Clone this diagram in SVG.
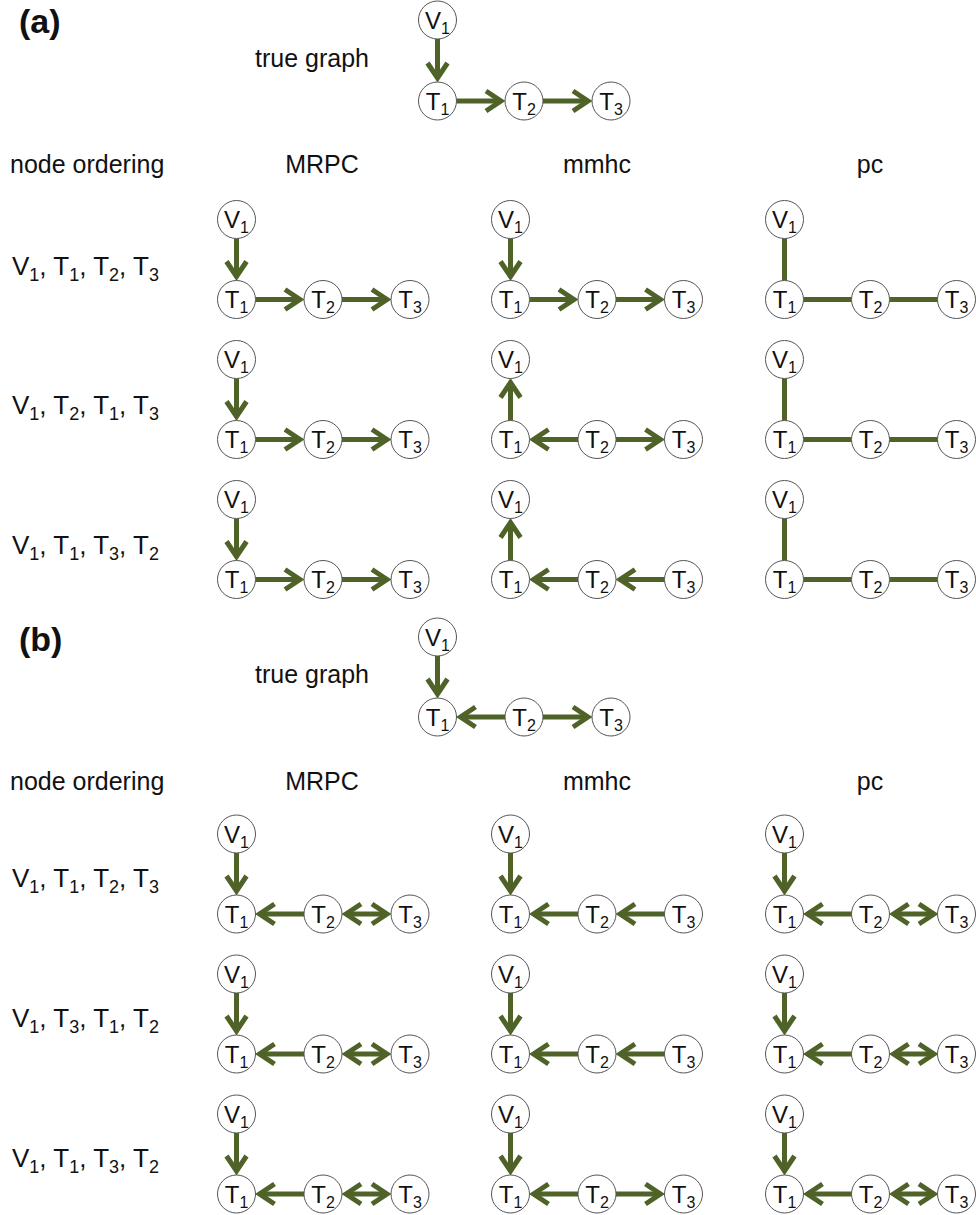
<svg xmlns="http://www.w3.org/2000/svg" width="976" height="1215" viewBox="0 0 976 1215">
<style>
text{font-family:"Liberation Sans",Arial,sans-serif;fill:#111}
.hd{font-size:25px}
.pl{font-size:34px;font-weight:bold}
.rl{font-size:26px}
.rl tspan.s{font-size:18px}
.nl{font-size:24px;text-anchor:middle}
.nl tspan{font-size:16px}
.e{stroke:#4f6228;stroke-width:5;fill:none}
.a{marker-end:url(#ah)}
.d{marker-start:url(#ah);marker-end:url(#ah)}
circle{fill:#fff;stroke:#555;stroke-width:1}
</style>
<defs>
<marker id="ah" markerUnits="userSpaceOnUse" viewBox="-20 -14 27 28" refX="0" refY="0" markerWidth="27" markerHeight="28" orient="auto-start-reverse">
<path d="M-15,-10 L0,0 L-15,10" fill="none" stroke="#4f6228" stroke-width="5"/>
</marker>
</defs>

<g id="labels">
<text class="pl" x="19" y="33">(a)</text>
<text class="hd" x="255" y="67">true graph</text>
<text class="hd" x="10" y="173">node ordering</text>
<text class="hd" x="322" y="173" text-anchor="middle">MRPC</text>
<text class="hd" x="597" y="173" text-anchor="middle">mmhc</text>
<text class="hd" x="870" y="173" text-anchor="middle">pc</text>
<text class="rl" x="12" y="275">V<tspan class="s" dy="6">1</tspan><tspan dy="-6">, T</tspan><tspan class="s" dy="6">1</tspan><tspan dy="-6">, T</tspan><tspan class="s" dy="6">2</tspan><tspan dy="-6">, T</tspan><tspan class="s" dy="6">3</tspan></text>
<text class="rl" x="12" y="414">V<tspan class="s" dy="6">1</tspan><tspan dy="-6">, T</tspan><tspan class="s" dy="6">2</tspan><tspan dy="-6">, T</tspan><tspan class="s" dy="6">1</tspan><tspan dy="-6">, T</tspan><tspan class="s" dy="6">3</tspan></text>
<text class="rl" x="12" y="554">V<tspan class="s" dy="6">1</tspan><tspan dy="-6">, T</tspan><tspan class="s" dy="6">1</tspan><tspan dy="-6">, T</tspan><tspan class="s" dy="6">3</tspan><tspan dy="-6">, T</tspan><tspan class="s" dy="6">2</tspan></text>
<text class="pl" x="19" y="651">(b)</text>
<text class="hd" x="255" y="683">true graph</text>
<text class="hd" x="10" y="790">node ordering</text>
<text class="hd" x="322" y="790" text-anchor="middle">MRPC</text>
<text class="hd" x="597" y="790" text-anchor="middle">mmhc</text>
<text class="hd" x="870" y="790" text-anchor="middle">pc</text>
<text class="rl" x="12" y="887">V<tspan class="s" dy="6">1</tspan><tspan dy="-6">, T</tspan><tspan class="s" dy="6">1</tspan><tspan dy="-6">, T</tspan><tspan class="s" dy="6">2</tspan><tspan dy="-6">, T</tspan><tspan class="s" dy="6">3</tspan></text>
<text class="rl" x="12" y="1027">V<tspan class="s" dy="6">1</tspan><tspan dy="-6">, T</tspan><tspan class="s" dy="6">3</tspan><tspan dy="-6">, T</tspan><tspan class="s" dy="6">1</tspan><tspan dy="-6">, T</tspan><tspan class="s" dy="6">2</tspan></text>
<text class="rl" x="12" y="1167">V<tspan class="s" dy="6">1</tspan><tspan dy="-6">, T</tspan><tspan class="s" dy="6">1</tspan><tspan dy="-6">, T</tspan><tspan class="s" dy="6">3</tspan><tspan dy="-6">, T</tspan><tspan class="s" dy="6">2</tspan></text>
</g>

<g id="connectors">
<!-- (a) true -->
<line class="e a" x1="437.5" y1="39" x2="437.5" y2="78"/>
<line class="e a" x1="456.5" y1="101" x2="501" y2="101"/>
<line class="e a" x1="543" y1="101" x2="588" y2="101"/>
<!-- (a) MRPC rows -->
<line class="e a" x1="236.5" y1="238.5" x2="236.5" y2="276.5"/>
<line class="e a" x1="255.5" y1="299.5" x2="300" y2="299.5"/>
<line class="e a" x1="342" y1="299.5" x2="387" y2="299.5"/>
<line class="e a" x1="236.5" y1="378.5" x2="236.5" y2="416.5"/>
<line class="e a" x1="255.5" y1="439.5" x2="300" y2="439.5"/>
<line class="e a" x1="342" y1="439.5" x2="387" y2="439.5"/>
<line class="e a" x1="236.5" y1="518.5" x2="236.5" y2="556.5"/>
<line class="e a" x1="255.5" y1="579.5" x2="300" y2="579.5"/>
<line class="e a" x1="342" y1="579.5" x2="387" y2="579.5"/>
<!-- (a) mmhc rows -->
<line class="e a" x1="510.5" y1="238.5" x2="510.5" y2="276.5"/>
<line class="e a" x1="529.5" y1="299.5" x2="574" y2="299.5"/>
<line class="e a" x1="616" y1="299.5" x2="660.5" y2="299.5"/>
<line class="e a" x1="510.5" y1="420.5" x2="510.5" y2="382.5"/>
<line class="e a" x1="578" y1="439.5" x2="533.5" y2="439.5"/>
<line class="e a" x1="616" y1="439.5" x2="660.5" y2="439.5"/>
<line class="e a" x1="510.5" y1="560.5" x2="510.5" y2="522.5"/>
<line class="e a" x1="578" y1="579.5" x2="533.5" y2="579.5"/>
<line class="e a" x1="664.5" y1="579.5" x2="620" y2="579.5"/>
<!-- (a) pc rows -->
<line class="e" x1="784.5" y1="238.5" x2="784.5" y2="280.5"/>
<line class="e" x1="803.5" y1="299.5" x2="851.5" y2="299.5"/>
<line class="e" x1="889.5" y1="299.5" x2="938" y2="299.5"/>
<line class="e" x1="784.5" y1="378.5" x2="784.5" y2="420.5"/>
<line class="e" x1="803.5" y1="439.5" x2="851.5" y2="439.5"/>
<line class="e" x1="889.5" y1="439.5" x2="938" y2="439.5"/>
<line class="e" x1="784.5" y1="518.5" x2="784.5" y2="560.5"/>
<line class="e" x1="803.5" y1="579.5" x2="851.5" y2="579.5"/>
<line class="e" x1="889.5" y1="579.5" x2="938" y2="579.5"/>
<!-- (b) true -->
<line class="e a" x1="437.5" y1="656" x2="437.5" y2="694"/>
<line class="e a" x1="505" y1="717" x2="460.5" y2="717"/>
<line class="e a" x1="543" y1="717" x2="588" y2="717"/>
<!-- (b) MRPC rows -->
<line class="e a" x1="236.5" y1="853" x2="236.5" y2="891"/>
<line class="e a" x1="304" y1="914" x2="259.5" y2="914"/>
<line class="e d" x1="346" y1="914" x2="387" y2="914"/>
<line class="e a" x1="236.5" y1="993" x2="236.5" y2="1031"/>
<line class="e a" x1="304" y1="1054" x2="259.5" y2="1054"/>
<line class="e d" x1="346" y1="1054" x2="387" y2="1054"/>
<line class="e a" x1="236.5" y1="1133" x2="236.5" y2="1171"/>
<line class="e a" x1="304" y1="1194" x2="259.5" y2="1194"/>
<line class="e d" x1="346" y1="1194" x2="387" y2="1194"/>
<!-- (b) mmhc rows -->
<line class="e a" x1="510.5" y1="853" x2="510.5" y2="891"/>
<line class="e a" x1="578" y1="914" x2="533.5" y2="914"/>
<line class="e a" x1="664.5" y1="914" x2="620" y2="914"/>
<line class="e a" x1="510.5" y1="993" x2="510.5" y2="1031"/>
<line class="e a" x1="578" y1="1054" x2="533.5" y2="1054"/>
<line class="e a" x1="664.5" y1="1054" x2="620" y2="1054"/>
<line class="e a" x1="510.5" y1="1133" x2="510.5" y2="1171"/>
<line class="e a" x1="578" y1="1194" x2="533.5" y2="1194"/>
<line class="e a" x1="616" y1="1194" x2="660.5" y2="1194"/>
<!-- (b) pc rows -->
<line class="e a" x1="784.5" y1="853" x2="784.5" y2="891"/>
<line class="e a" x1="851.5" y1="914" x2="807.5" y2="914"/>
<line class="e d" x1="893.5" y1="914" x2="934" y2="914"/>
<line class="e a" x1="784.5" y1="993" x2="784.5" y2="1031"/>
<line class="e a" x1="851.5" y1="1054" x2="807.5" y2="1054"/>
<line class="e d" x1="893.5" y1="1054" x2="934" y2="1054"/>
<line class="e a" x1="784.5" y1="1133" x2="784.5" y2="1171"/>
<line class="e a" x1="851.5" y1="1194" x2="807.5" y2="1194"/>
<line class="e d" x1="893.5" y1="1194" x2="934" y2="1194"/>
</g>

<!-- (a) true graph nodes -->
<g id="a-true-V1"><circle cx="437.5" cy="20" r="19"/><text class="nl" x="437.5" y="28.5">V<tspan dy="5">1</tspan></text></g>
<g id="a-true-T1"><circle cx="437.5" cy="101" r="19"/><text class="nl" x="437.5" y="109.5">T<tspan dy="5">1</tspan></text></g>
<g id="a-true-T2"><circle cx="524" cy="101" r="19"/><text class="nl" x="524" y="109.5">T<tspan dy="5">2</tspan></text></g>
<g id="a-true-T3"><circle cx="611" cy="101" r="19"/><text class="nl" x="611" y="109.5">T<tspan dy="5">3</tspan></text></g>

<!-- (a) rows -->
<g id="a1-MRPC-V1"><circle cx="236.5" cy="219.5" r="19"/><text class="nl" x="236.5" y="228">V<tspan dy="5">1</tspan></text></g>
<g id="a1-MRPC-T1"><circle cx="236.5" cy="299.5" r="19"/><text class="nl" x="236.5" y="308">T<tspan dy="5">1</tspan></text></g>
<g id="a1-MRPC-T2"><circle cx="323" cy="299.5" r="19"/><text class="nl" x="323" y="308">T<tspan dy="5">2</tspan></text></g>
<g id="a1-MRPC-T3"><circle cx="410" cy="299.5" r="19"/><text class="nl" x="410" y="308">T<tspan dy="5">3</tspan></text></g>
<g id="a1-mmhc-V1"><circle cx="510.5" cy="219.5" r="19"/><text class="nl" x="510.5" y="228">V<tspan dy="5">1</tspan></text></g>
<g id="a1-mmhc-T1"><circle cx="510.5" cy="299.5" r="19"/><text class="nl" x="510.5" y="308">T<tspan dy="5">1</tspan></text></g>
<g id="a1-mmhc-T2"><circle cx="597" cy="299.5" r="19"/><text class="nl" x="597" y="308">T<tspan dy="5">2</tspan></text></g>
<g id="a1-mmhc-T3"><circle cx="683.5" cy="299.5" r="19"/><text class="nl" x="683.5" y="308">T<tspan dy="5">3</tspan></text></g>
<g id="a1-pc-V1"><circle cx="784.5" cy="219.5" r="19"/><text class="nl" x="784.5" y="228">V<tspan dy="5">1</tspan></text></g>
<g id="a1-pc-T1"><circle cx="784.5" cy="299.5" r="19"/><text class="nl" x="784.5" y="308">T<tspan dy="5">1</tspan></text></g>
<g id="a1-pc-T2"><circle cx="870.5" cy="299.5" r="19"/><text class="nl" x="870.5" y="308">T<tspan dy="5">2</tspan></text></g>
<g id="a1-pc-T3"><circle cx="956.5" cy="299.5" r="19"/><text class="nl" x="956.5" y="308">T<tspan dy="5">3</tspan></text></g>

<g id="a2-MRPC-V1"><circle cx="236.5" cy="359.5" r="19"/><text class="nl" x="236.5" y="368">V<tspan dy="5">1</tspan></text></g>
<g id="a2-MRPC-T1"><circle cx="236.5" cy="439.5" r="19"/><text class="nl" x="236.5" y="448">T<tspan dy="5">1</tspan></text></g>
<g id="a2-MRPC-T2"><circle cx="323" cy="439.5" r="19"/><text class="nl" x="323" y="448">T<tspan dy="5">2</tspan></text></g>
<g id="a2-MRPC-T3"><circle cx="410" cy="439.5" r="19"/><text class="nl" x="410" y="448">T<tspan dy="5">3</tspan></text></g>
<g id="a2-mmhc-V1"><circle cx="510.5" cy="359.5" r="19"/><text class="nl" x="510.5" y="368">V<tspan dy="5">1</tspan></text></g>
<g id="a2-mmhc-T1"><circle cx="510.5" cy="439.5" r="19"/><text class="nl" x="510.5" y="448">T<tspan dy="5">1</tspan></text></g>
<g id="a2-mmhc-T2"><circle cx="597" cy="439.5" r="19"/><text class="nl" x="597" y="448">T<tspan dy="5">2</tspan></text></g>
<g id="a2-mmhc-T3"><circle cx="683.5" cy="439.5" r="19"/><text class="nl" x="683.5" y="448">T<tspan dy="5">3</tspan></text></g>
<g id="a2-pc-V1"><circle cx="784.5" cy="359.5" r="19"/><text class="nl" x="784.5" y="368">V<tspan dy="5">1</tspan></text></g>
<g id="a2-pc-T1"><circle cx="784.5" cy="439.5" r="19"/><text class="nl" x="784.5" y="448">T<tspan dy="5">1</tspan></text></g>
<g id="a2-pc-T2"><circle cx="870.5" cy="439.5" r="19"/><text class="nl" x="870.5" y="448">T<tspan dy="5">2</tspan></text></g>
<g id="a2-pc-T3"><circle cx="956.5" cy="439.5" r="19"/><text class="nl" x="956.5" y="448">T<tspan dy="5">3</tspan></text></g>

<g id="a3-MRPC-V1"><circle cx="236.5" cy="499.5" r="19"/><text class="nl" x="236.5" y="508">V<tspan dy="5">1</tspan></text></g>
<g id="a3-MRPC-T1"><circle cx="236.5" cy="579.5" r="19"/><text class="nl" x="236.5" y="588">T<tspan dy="5">1</tspan></text></g>
<g id="a3-MRPC-T2"><circle cx="323" cy="579.5" r="19"/><text class="nl" x="323" y="588">T<tspan dy="5">2</tspan></text></g>
<g id="a3-MRPC-T3"><circle cx="410" cy="579.5" r="19"/><text class="nl" x="410" y="588">T<tspan dy="5">3</tspan></text></g>
<g id="a3-mmhc-V1"><circle cx="510.5" cy="499.5" r="19"/><text class="nl" x="510.5" y="508">V<tspan dy="5">1</tspan></text></g>
<g id="a3-mmhc-T1"><circle cx="510.5" cy="579.5" r="19"/><text class="nl" x="510.5" y="588">T<tspan dy="5">1</tspan></text></g>
<g id="a3-mmhc-T2"><circle cx="597" cy="579.5" r="19"/><text class="nl" x="597" y="588">T<tspan dy="5">2</tspan></text></g>
<g id="a3-mmhc-T3"><circle cx="683.5" cy="579.5" r="19"/><text class="nl" x="683.5" y="588">T<tspan dy="5">3</tspan></text></g>
<g id="a3-pc-V1"><circle cx="784.5" cy="499.5" r="19"/><text class="nl" x="784.5" y="508">V<tspan dy="5">1</tspan></text></g>
<g id="a3-pc-T1"><circle cx="784.5" cy="579.5" r="19"/><text class="nl" x="784.5" y="588">T<tspan dy="5">1</tspan></text></g>
<g id="a3-pc-T2"><circle cx="870.5" cy="579.5" r="19"/><text class="nl" x="870.5" y="588">T<tspan dy="5">2</tspan></text></g>
<g id="a3-pc-T3"><circle cx="956.5" cy="579.5" r="19"/><text class="nl" x="956.5" y="588">T<tspan dy="5">3</tspan></text></g>

<!-- (b) true graph nodes -->
<g id="b-true-V1"><circle cx="437.5" cy="637" r="19"/><text class="nl" x="437.5" y="645.5">V<tspan dy="5">1</tspan></text></g>
<g id="b-true-T1"><circle cx="437.5" cy="717" r="19"/><text class="nl" x="437.5" y="725.5">T<tspan dy="5">1</tspan></text></g>
<g id="b-true-T2"><circle cx="524" cy="717" r="19"/><text class="nl" x="524" y="725.5">T<tspan dy="5">2</tspan></text></g>
<g id="b-true-T3"><circle cx="611" cy="717" r="19"/><text class="nl" x="611" y="725.5">T<tspan dy="5">3</tspan></text></g>

<!-- (b) rows -->
<g id="b1-MRPC-V1"><circle cx="236.5" cy="834" r="19"/><text class="nl" x="236.5" y="842.5">V<tspan dy="5">1</tspan></text></g>
<g id="b1-MRPC-T1"><circle cx="236.5" cy="914" r="19"/><text class="nl" x="236.5" y="922.5">T<tspan dy="5">1</tspan></text></g>
<g id="b1-MRPC-T2"><circle cx="323" cy="914" r="19"/><text class="nl" x="323" y="922.5">T<tspan dy="5">2</tspan></text></g>
<g id="b1-MRPC-T3"><circle cx="410" cy="914" r="19"/><text class="nl" x="410" y="922.5">T<tspan dy="5">3</tspan></text></g>
<g id="b1-mmhc-V1"><circle cx="510.5" cy="834" r="19"/><text class="nl" x="510.5" y="842.5">V<tspan dy="5">1</tspan></text></g>
<g id="b1-mmhc-T1"><circle cx="510.5" cy="914" r="19"/><text class="nl" x="510.5" y="922.5">T<tspan dy="5">1</tspan></text></g>
<g id="b1-mmhc-T2"><circle cx="597" cy="914" r="19"/><text class="nl" x="597" y="922.5">T<tspan dy="5">2</tspan></text></g>
<g id="b1-mmhc-T3"><circle cx="683.5" cy="914" r="19"/><text class="nl" x="683.5" y="922.5">T<tspan dy="5">3</tspan></text></g>
<g id="b1-pc-V1"><circle cx="784.5" cy="834" r="19"/><text class="nl" x="784.5" y="842.5">V<tspan dy="5">1</tspan></text></g>
<g id="b1-pc-T1"><circle cx="784.5" cy="914" r="19"/><text class="nl" x="784.5" y="922.5">T<tspan dy="5">1</tspan></text></g>
<g id="b1-pc-T2"><circle cx="870.5" cy="914" r="19"/><text class="nl" x="870.5" y="922.5">T<tspan dy="5">2</tspan></text></g>
<g id="b1-pc-T3"><circle cx="956.5" cy="914" r="19"/><text class="nl" x="956.5" y="922.5">T<tspan dy="5">3</tspan></text></g>

<g id="b2-MRPC-V1"><circle cx="236.5" cy="974" r="19"/><text class="nl" x="236.5" y="982.5">V<tspan dy="5">1</tspan></text></g>
<g id="b2-MRPC-T1"><circle cx="236.5" cy="1054" r="19"/><text class="nl" x="236.5" y="1062.5">T<tspan dy="5">1</tspan></text></g>
<g id="b2-MRPC-T2"><circle cx="323" cy="1054" r="19"/><text class="nl" x="323" y="1062.5">T<tspan dy="5">2</tspan></text></g>
<g id="b2-MRPC-T3"><circle cx="410" cy="1054" r="19"/><text class="nl" x="410" y="1062.5">T<tspan dy="5">3</tspan></text></g>
<g id="b2-mmhc-V1"><circle cx="510.5" cy="974" r="19"/><text class="nl" x="510.5" y="982.5">V<tspan dy="5">1</tspan></text></g>
<g id="b2-mmhc-T1"><circle cx="510.5" cy="1054" r="19"/><text class="nl" x="510.5" y="1062.5">T<tspan dy="5">1</tspan></text></g>
<g id="b2-mmhc-T2"><circle cx="597" cy="1054" r="19"/><text class="nl" x="597" y="1062.5">T<tspan dy="5">2</tspan></text></g>
<g id="b2-mmhc-T3"><circle cx="683.5" cy="1054" r="19"/><text class="nl" x="683.5" y="1062.5">T<tspan dy="5">3</tspan></text></g>
<g id="b2-pc-V1"><circle cx="784.5" cy="974" r="19"/><text class="nl" x="784.5" y="982.5">V<tspan dy="5">1</tspan></text></g>
<g id="b2-pc-T1"><circle cx="784.5" cy="1054" r="19"/><text class="nl" x="784.5" y="1062.5">T<tspan dy="5">1</tspan></text></g>
<g id="b2-pc-T2"><circle cx="870.5" cy="1054" r="19"/><text class="nl" x="870.5" y="1062.5">T<tspan dy="5">2</tspan></text></g>
<g id="b2-pc-T3"><circle cx="956.5" cy="1054" r="19"/><text class="nl" x="956.5" y="1062.5">T<tspan dy="5">3</tspan></text></g>

<g id="b3-MRPC-V1"><circle cx="236.5" cy="1114" r="19"/><text class="nl" x="236.5" y="1122.5">V<tspan dy="5">1</tspan></text></g>
<g id="b3-MRPC-T1"><circle cx="236.5" cy="1194" r="19"/><text class="nl" x="236.5" y="1202.5">T<tspan dy="5">1</tspan></text></g>
<g id="b3-MRPC-T2"><circle cx="323" cy="1194" r="19"/><text class="nl" x="323" y="1202.5">T<tspan dy="5">2</tspan></text></g>
<g id="b3-MRPC-T3"><circle cx="410" cy="1194" r="19"/><text class="nl" x="410" y="1202.5">T<tspan dy="5">3</tspan></text></g>
<g id="b3-mmhc-V1"><circle cx="510.5" cy="1114" r="19"/><text class="nl" x="510.5" y="1122.5">V<tspan dy="5">1</tspan></text></g>
<g id="b3-mmhc-T1"><circle cx="510.5" cy="1194" r="19"/><text class="nl" x="510.5" y="1202.5">T<tspan dy="5">1</tspan></text></g>
<g id="b3-mmhc-T2"><circle cx="597" cy="1194" r="19"/><text class="nl" x="597" y="1202.5">T<tspan dy="5">2</tspan></text></g>
<g id="b3-mmhc-T3"><circle cx="683.5" cy="1194" r="19"/><text class="nl" x="683.5" y="1202.5">T<tspan dy="5">3</tspan></text></g>
<g id="b3-pc-V1"><circle cx="784.5" cy="1114" r="19"/><text class="nl" x="784.5" y="1122.5">V<tspan dy="5">1</tspan></text></g>
<g id="b3-pc-T1"><circle cx="784.5" cy="1194" r="19"/><text class="nl" x="784.5" y="1202.5">T<tspan dy="5">1</tspan></text></g>
<g id="b3-pc-T2"><circle cx="870.5" cy="1194" r="19"/><text class="nl" x="870.5" y="1202.5">T<tspan dy="5">2</tspan></text></g>
<g id="b3-pc-T3"><circle cx="956.5" cy="1194" r="19"/><text class="nl" x="956.5" y="1202.5">T<tspan dy="5">3</tspan></text></g>
</svg>
